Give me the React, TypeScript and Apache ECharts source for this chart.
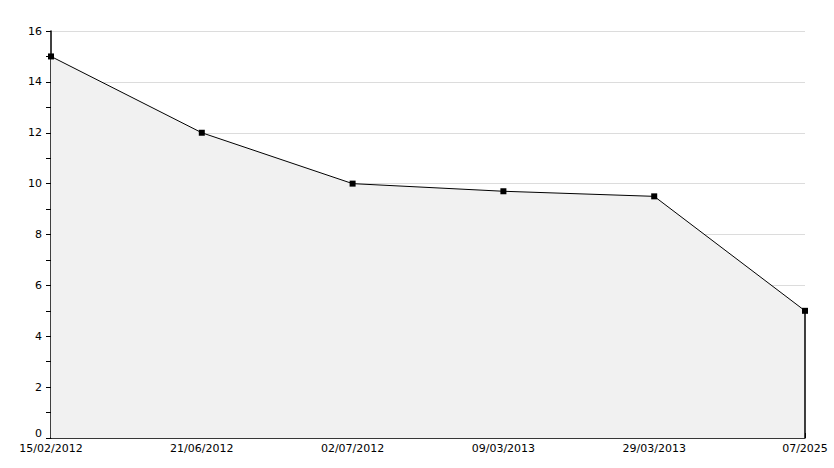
import React, { useEffect, useRef } from "react";
import * as echarts from "echarts";

const categories = ["15/02/2012", "21/06/2012", "02/07/2012", "09/03/2013", "29/03/2013", "07/2025"];
const values = [15, 12, 10, 9.7, 9.5, 5];
const yTicks = [0, 2, 4, 6, 8, 10, 12, 14, 16];

export default function App() {
  const ref = useRef<HTMLDivElement>(null);
  useEffect(() => {
    if (!ref.current) return;
    const chart = echarts.init(ref.current, null, { renderer: "svg" });
    const lastIdx = categories.length - 1;
    chart.setOption({
      animation: false,
      backgroundColor: "#ffffff",
      grid: { left: 51, right: 29, top: 31, bottom: 30, containLabel: false },
      xAxis: {
        type: "category",
        data: categories,
        boundaryGap: false,
        axisLine: { show: true, lineStyle: { color: "#000", width: 1.5 } },
        axisTick: { show: true, inside: true, length: 5, lineStyle: { color: "#000" }, interval: 0 },
        axisLabel: { color: "#000", fontFamily: "DejaVu Sans", fontSize: 11, margin: 5, interval: 0 },
        splitLine: { show: false },
      },
      yAxis: {
        type: "value",
        min: yTicks[0],
        max: yTicks[yTicks.length - 1],
        interval: 2,
        axisLine: { show: true, lineStyle: { color: "#000", width: 1.5 } },
        axisTick: { show: true, length: 5, lineStyle: { color: "#000" } },
        minorTick: { show: true, splitNumber: 2, length: 5, lineStyle: { color: "#000" } },
        axisLabel: {
          color: "#000",
          fontFamily: "DejaVu Sans",
          fontSize: 11,
          margin: 9,
          formatter: (v: number) => (v === 0 ? "{z|0}" : String(v)),
          rich: { z: { color: "#000", fontFamily: "DejaVu Sans", fontSize: 11, padding: [0, 0, 10, 0] } },
        },
        splitLine: { show: true, lineStyle: { color: "#dcdcdc", width: 1 } },
      },
      series: [
        {
          type: "line",
          data: values,
          symbol: "rect",
          symbolSize: 6,
          itemStyle: { color: "#000" },
          lineStyle: { color: "#000", width: 1 },
          areaStyle: { color: "#f1f1f1", opacity: 1 },
          markLine: {
            silent: true,
            symbol: ["none", "none"],
            label: { show: false },
            lineStyle: { color: "#000", width: 1.5, type: "solid" },
            data: [[{ coord: [lastIdx, values[lastIdx]] }, { coord: [lastIdx, 0] }]],
          },
        },
      ],
    });
    return () => chart.dispose();
  }, []);
  return <div ref={ref} style={{ width: 834, height: 468, position: "absolute", left: 0, top: 0 }} />;
}
